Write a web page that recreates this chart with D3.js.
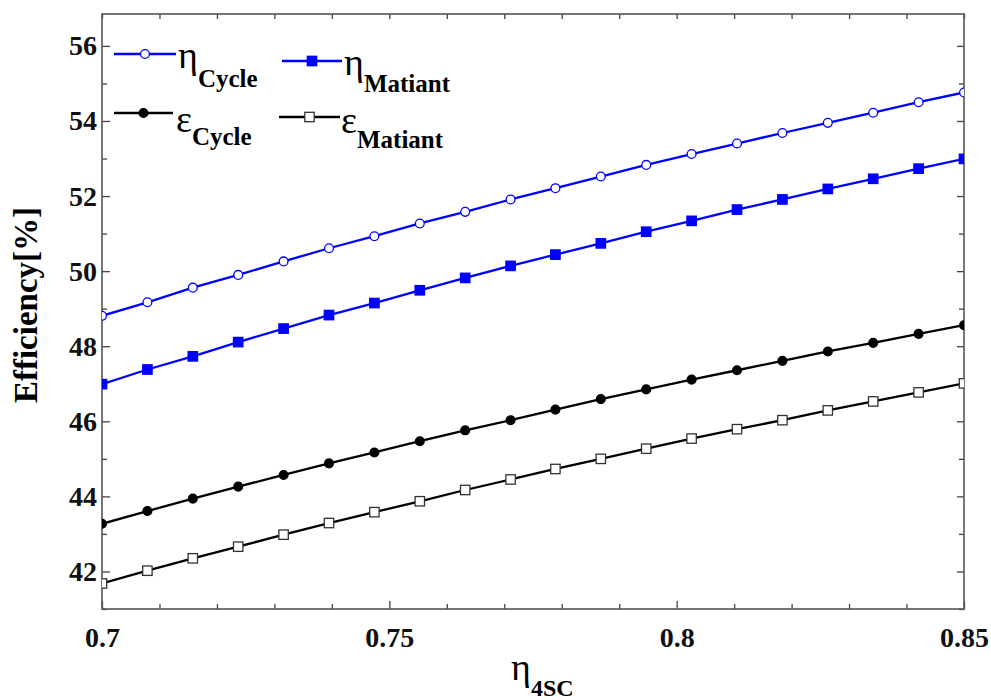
<!DOCTYPE html>
<html>
<head>
<meta charset="utf-8">
<script src="https://cdn.jsdelivr.net/npm/d3@7"></script>
<style>
  body { margin: 0; background: #fff; }
  svg text { font-family: "Liberation Serif", "Times New Roman", serif; }
</style>
</head>
<body>
<svg></svg>
<script>
// x values (eta_4SC), 20 points
const etaSC = [0.7, 0.7079, 0.7158, 0.7237, 0.7316, 0.7395, 0.7474, 0.7553, 0.7632, 0.7711,
  0.7789, 0.7868, 0.7947, 0.8026, 0.8105, 0.8184, 0.8263, 0.8342, 0.8421, 0.85];

// efficiencies in %
const etaCycle = [48.81, 49.17, 49.56, 49.90, 50.26, 50.61, 50.93, 51.27, 51.58, 51.91,
  52.21, 52.52, 52.83, 53.12, 53.40, 53.68, 53.95, 54.22, 54.50, 54.76];
const etaMatiant = [46.99, 47.38, 47.73, 48.11, 48.47, 48.83, 49.15, 49.49, 49.82, 50.14,
  50.44, 50.74, 51.05, 51.34, 51.64, 51.91, 52.19, 52.46, 52.73, 52.99];
const epsCycle = [43.27, 43.61, 43.94, 44.26, 44.57, 44.88, 45.17, 45.47, 45.76, 46.03,
  46.31, 46.59, 46.85, 47.11, 47.36, 47.61, 47.86, 48.09, 48.33, 48.56];
const epsMatiant = [41.68, 42.02, 42.35, 42.66, 42.98, 43.29, 43.58, 43.87, 44.17, 44.45,
  44.73, 45.00, 45.27, 45.54, 45.79, 46.03, 46.29, 46.53, 46.77, 47.01];

// ticks
const xMajor = [0.7, 0.75, 0.8, 0.85];
const xMajorLabels = ['0.7', '0.75', '0.8', '0.85'];
const xMinor = [0.71, 0.72, 0.73, 0.74, 0.76, 0.77, 0.78, 0.79, 0.81, 0.82, 0.83, 0.84];
const yMajor = [42, 44, 46, 48, 50, 52, 54, 56];
const yMajorLabels = ['42', '44', '46', '48', '50', '52', '54', '56'];
const yMinor = [41, 43, 45, 47, 49, 51, 53, 55];

const seriesNames = ['\u03b7', '\u03b7', '\u03b5', '\u03b5'];
const seriesSubs = ['Cycle', 'Matiant', 'Cycle', 'Matiant'];

const serif = '"Liberation Serif", "Times New Roman", serif';

let width = 991;
let height = 700;
let plotLeft = 102, plotRight = 964, plotTop = 14, plotBottom = 609;

let svg = d3.select('svg').attr('width', width).attr('height', height);

let xScale = d3.scaleLinear().domain([0.7, 0.85]).range([plotLeft, plotRight]);
let yScale = d3.scaleLinear().domain([41, 56.85]).range([plotBottom, plotTop]);

const series = [
  { values: etaCycle, color: '#0000ff', marker: 'circle', fill: '#fff', stroke: '#0000ff' },
  { values: etaMatiant, color: '#0000ff', marker: 'square', fill: '#0000ff', stroke: '#0000ff' },
  { values: epsCycle, color: '#000', marker: 'circle', fill: '#000', stroke: '#000' },
  { values: epsMatiant, color: '#000', marker: 'square', fill: '#fff', stroke: '#333' },
];

svg.append('defs').append('clipPath').attr('id', 'plot-clip')
  .append('rect')
  .attr('x', plotLeft).attr('y', plotTop)
  .attr('width', plotRight - plotLeft).attr('height', plotBottom - plotTop);

// axes with inward ticks
let styleAxis = (g) => {
  g.attr('font-family', serif);
  g.select('.domain').remove();
  g.selectAll('.tick line').attr('stroke', '#444').attr('stroke-width', 1.3);
  g.selectAll('.tick text')
    .attr('fill', '#111')
    .style('font-family', serif)
    .style('font-size', '28px')
    .style('font-weight', 'bold');
};

svg.append('g')
  .attr('transform', `translate(0,${plotBottom})`)
  .call(d3.axisBottom(xScale).tickValues(xMajor)
    .tickFormat((d, i) => xMajorLabels[i]).tickSizeInner(-8).tickSizeOuter(0).tickPadding(18))
  .call(styleAxis);
svg.append('g')
  .attr('transform', `translate(0,${plotBottom})`)
  .call(d3.axisBottom(xScale).tickValues(xMinor).tickFormat('').tickSizeInner(-5).tickSizeOuter(0))
  .call(styleAxis);
svg.append('g')
  .attr('transform', `translate(0,${plotTop})`)
  .call(d3.axisTop(xScale).tickValues(xMajor.concat(xMinor)).tickFormat('').tickSizeInner(-5).tickSizeOuter(0))
  .call(styleAxis);

svg.append('g')
  .attr('transform', `translate(${plotLeft},0)`)
  .call(d3.axisLeft(yScale).tickValues(yMajor)
    .tickFormat((d, i) => yMajorLabels[i]).tickSizeInner(-8).tickSizeOuter(0).tickPadding(5))
  .call(styleAxis);
svg.append('g')
  .attr('transform', `translate(${plotLeft},0)`)
  .call(d3.axisLeft(yScale).tickValues(yMinor).tickFormat('').tickSizeInner(-5).tickSizeOuter(0))
  .call(styleAxis);
svg.append('g')
  .attr('transform', `translate(${plotRight},0)`)
  .call(d3.axisRight(yScale).tickValues(yMajor).tickFormat('').tickSizeInner(-7).tickSizeOuter(0))
  .call(styleAxis);
svg.append('g')
  .attr('transform', `translate(${plotRight},0)`)
  .call(d3.axisRight(yScale).tickValues(yMinor).tickFormat('').tickSizeInner(-5).tickSizeOuter(0))
  .call(styleAxis);

// frame
svg.append('rect')
  .attr('x', plotLeft).attr('y', plotTop)
  .attr('width', plotRight - plotLeft).attr('height', plotBottom - plotTop)
  .attr('fill', 'none').attr('stroke', '#555').attr('stroke-width', 1.6);

// lines and markers
let line = d3.line().x((d, i) => xScale(etaSC[i])).y((d) => yScale(d));
let plot = svg.append('g').attr('clip-path', 'url(#plot-clip)');

let drawMarker = (g, s, cx, cy) => {
  if (s.marker === 'circle') {
    g.append('circle').attr('cx', cx).attr('cy', cy).attr('r', 4.4)
      .attr('fill', s.fill).attr('stroke', s.stroke).attr('stroke-width', 1.3);
  } else {
    g.append('rect').attr('x', cx - 4.7).attr('y', cy - 4.7)
      .attr('width', 9.4).attr('height', 9.4)
      .attr('fill', s.fill).attr('stroke', s.stroke).attr('stroke-width', 1.3);
  }
};

series.forEach((s) => {
  plot.append('path')
    .datum(s.values)
    .attr('d', line)
    .attr('fill', 'none')
    .attr('stroke', s.color)
    .attr('stroke-width', 2.3);
  s.values.forEach((v, i) => drawMarker(plot, s, xScale(etaSC[i]), yScale(v)));
});

// legend
const legendPos = [
  { x1: 114, x2: 176, y: 54, tx: 178, ty: 68, sub: 19 },
  { x1: 282, x2: 342, y: 61, tx: 344, ty: 75, sub: 17 },
  { x1: 114, x2: 173, y: 113, tx: 176, ty: 132, sub: 13 },
  { x1: 279, x2: 340, y: 117, tx: 341, ty: 133, sub: 15 },
];
series.forEach((s, i) => {
  let p = legendPos[i];
  let g = svg.append('g');
  g.append('line')
    .attr('x1', p.x1).attr('x2', p.x2).attr('y1', p.y).attr('y2', p.y)
    .attr('stroke', s.color).attr('stroke-width', 2.3);
  drawMarker(g, s, (p.x1 + p.x2) / 2, p.y);
  let t = g.append('text').attr('x', p.tx).attr('y', p.ty).attr('fill', '#000')
    .style('font-family', serif);
  t.append('tspan').style('font-size', '38px').text(seriesNames[i]);
  t.append('tspan').attr('dy', p.sub).style('font-size', '25px')
    .style('font-weight', 'bold').text(seriesSubs[i]);
});

// axis titles
svg.append('text')
  .attr('transform', `translate(37,305) rotate(-90)`)
  .attr('text-anchor', 'middle')
  .style('font-family', serif)
  .style('font-size', '33px')
  .style('font-weight', 'bold')
  .attr('fill', '#000')
  .text('Efficiency[%]');

let xt = svg.append('text').attr('x', 511).attr('y', 680).attr('fill', '#000')
  .style('font-family', serif);
xt.append('tspan').style('font-size', '38px').text('\u03b7');
xt.append('tspan').attr('dy', 16).style('font-size', '24px').style('font-weight', 'bold').text('4SC');
</script>
</body>
</html>
